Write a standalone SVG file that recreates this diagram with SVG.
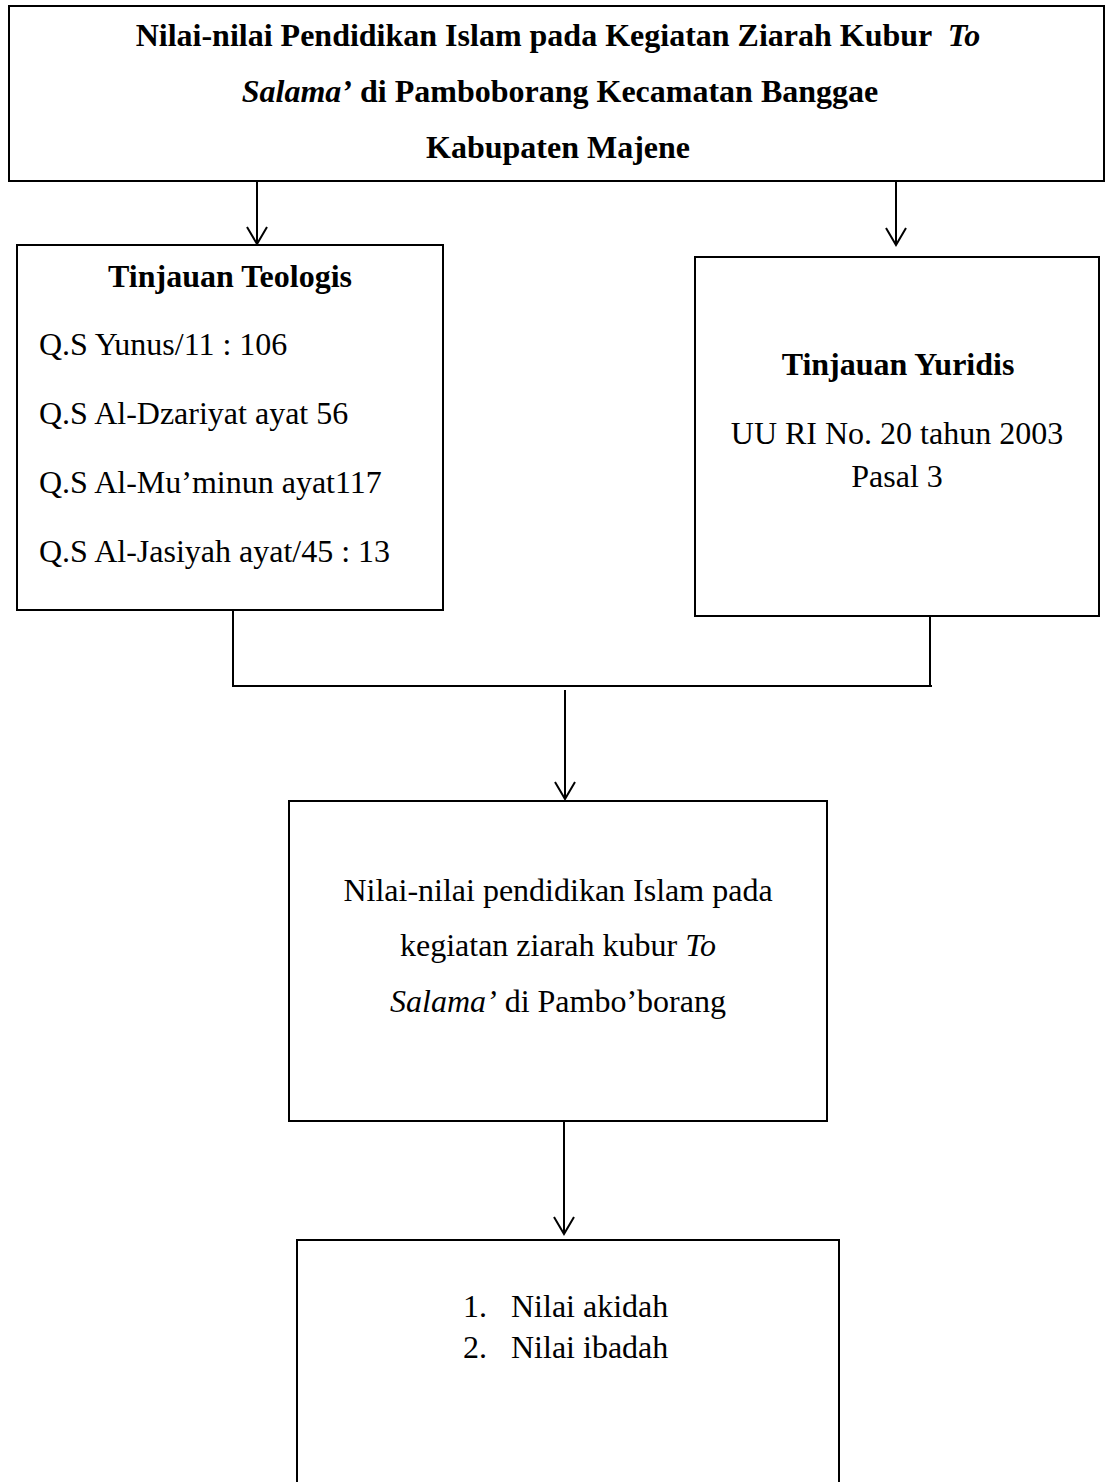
<svg xmlns="http://www.w3.org/2000/svg" width="1105" height="1482" viewBox="0 0 1105 1482">
<style>
.box{fill:#fff;stroke:#000;stroke-width:2}
.t{font-family:"Liberation Serif","Times New Roman",serif;font-size:32px;fill:#000}
.b{font-weight:bold}
.i{font-style:italic}
.c{text-anchor:middle}
.ln{fill:none;stroke:#000;stroke-width:2}
</style>
<defs>
<marker id="arr" markerUnits="userSpaceOnUse" viewBox="0 0 20 22" refX="18" refY="11" markerWidth="20" markerHeight="22" orient="auto">
<path d="M1,1 L18,11 L1,21" fill="none" stroke="#000" stroke-width="2"/>
</marker>
</defs>
<rect width="1105" height="1482" fill="#fff"/>
<g id="connectors">
<path class="ln" d="M257,181 V244" marker-end="url(#arr)"/>
<path class="ln" d="M896,181 V245" marker-end="url(#arr)"/>
<path class="ln" d="M233,610 V686"/>
<path class="ln" d="M930,616 V686"/>
<path class="ln" d="M232,686 H932"/>
<path class="ln" d="M565,690 V799" marker-end="url(#arr)"/>
<path class="ln" d="M564,1121 V1234" marker-end="url(#arr)"/>
</g>
<g id="title">
<rect class="box" x="9" y="6" width="1095" height="175"/>
<text class="t b c" x="558" y="46">Nilai-nilai Pendidikan Islam pada Kegiatan Ziarah Kubur <tspan class="i" dx="8">To</tspan></text>
<text class="t b c" x="560" y="102"><tspan class="i">Salama’</tspan> di Pamboborang Kecamatan Banggae</text>
<text class="t b c" x="558" y="158">Kabupaten Majene</text>
</g>
<g id="teologis">
<rect class="box" x="17" y="245" width="426" height="365"/>
<text class="t b c" x="230" y="287">Tinjauan Teologis</text>
<text class="t" x="39" y="355">Q.S Yunus/11 : 106</text>
<text class="t" x="39" y="424">Q.S Al-Dzariyat ayat 56</text>
<text class="t" x="39" y="493">Q.S Al-Mu’minun ayat117</text>
<text class="t" x="39" y="562">Q.S Al-Jasiyah ayat/45 : 13</text>
</g>
<g id="yuridis">
<rect class="box" x="695" y="257" width="404" height="359"/>
<text class="t b c" x="898" y="375">Tinjauan Yuridis</text>
<text class="t c" x="897" y="444">UU RI No. 20 tahun 2003</text>
<text class="t c" x="897" y="487">Pasal 3</text>
</g>
<g id="nilai">
<rect class="box" x="289" y="801" width="538" height="320"/>
<text class="t c" x="558" y="901">Nilai-nilai pendidikan Islam pada</text>
<text class="t c" x="558" y="956">kegiatan ziarah kubur <tspan class="i">To</tspan></text>
<text class="t c" x="558" y="1012"><tspan class="i">Salama’</tspan> di Pambo’borang</text>
</g>
<g id="hasil">
<rect class="box" x="297" y="1240" width="542" height="280"/>
<text class="t" x="463" y="1317">1.</text>
<text class="t" x="511" y="1317">Nilai akidah</text>
<text class="t" x="463" y="1358">2.</text>
<text class="t" x="511" y="1358">Nilai ibadah</text>
</g>
</svg>
